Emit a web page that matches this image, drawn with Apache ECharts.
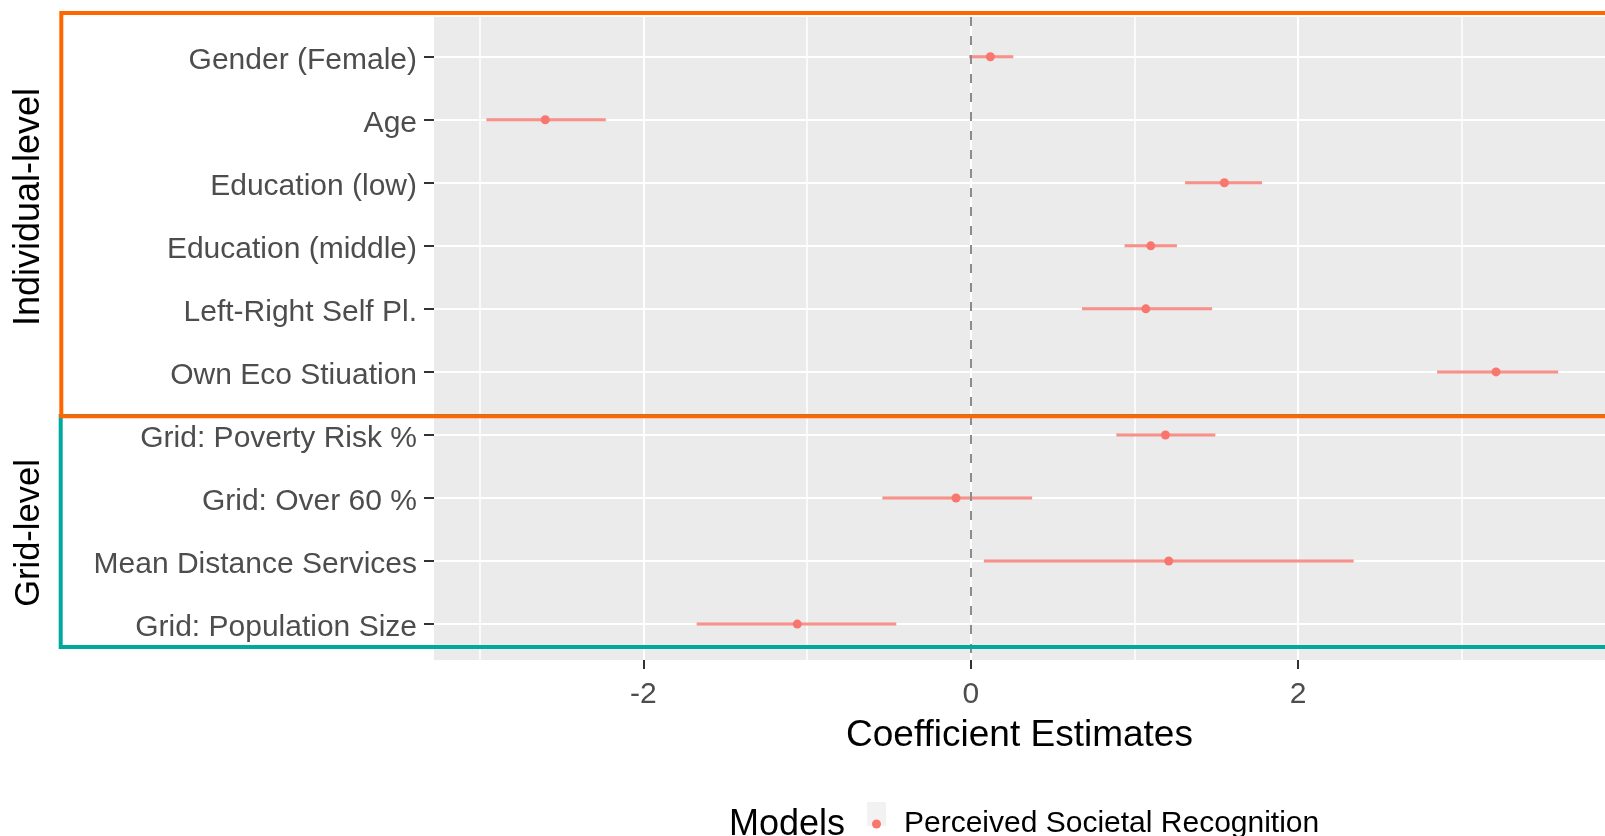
<!DOCTYPE html>
<html>
<head>
<meta charset="utf-8">
<script src="https://cdn.jsdelivr.net/npm/echarts@6/dist/echarts.min.js"></script>
<style>
  html, body { margin: 0; padding: 0; background: #fff; }
  #myChart { width: 1605px; height: 836px; }
</style>
</head>
<body>
<div id="myChart"></div>
<script>
// rows from top to bottom
const terms = [
  "Gender (Female)",
  "Age",
  "Education (low)",
  "Education (middle)",
  "Left-Right Self Pl.",
  "Own Eco Stiuation",
  "Grid: Poverty Risk %",
  "Grid: Over 60 %",
  "Mean Distance Services",
  "Grid: Population Size",
];
const estimate = [0.12, -2.6, 1.55, 1.10, 1.07, 3.21, 1.19, -0.09, 1.21, -1.06];
const ciLow = [-0.01, -2.96, 1.31, 0.94, 0.68, 2.85, 0.89, -0.54, 0.08, -1.675];
const ciHigh = [0.26, -2.23, 1.78, 1.26, 1.475, 3.59, 1.495, 0.375, 2.34, -0.455];
const majorTicks = [-2, 0, 2];
const minorTicks = [-3, -1, 1, 3];
const rowTicks = terms.map((t, i) => i);

const font = "'Liberation Sans', Arial, sans-serif";
const red = "#F8766D";
const seriesName = "Perceived Societal Recognition";

const chart = echarts.init(document.getElementById("myChart"));

chart.setOption({
  animation: false,
  textStyle: { fontFamily: font },
  grid: {
    left: 434,
    right: 0,
    top: 17,
    bottom: 176,
    show: true,
    backgroundColor: "#EBEBEB",
    borderWidth: 0,
  },
  title: {
    text: "Models",
    left: 729,
    top: 807,
    padding: 0,
    textStyle: { fontSize: 36, fontWeight: "normal", color: "#000", fontFamily: font },
  },
  legend: {
    left: 872,
    top: 809,
    padding: 0,
    itemWidth: 9,
    itemHeight: 9,
    data: [{ name: seriesName, icon: "circle", itemStyle: { color: red } }],
    textStyle: { fontSize: 30, color: "#000", padding: [0, 0, 0, 18], fontFamily: font },
  },
  xAxis: [
    {
      type: "value",
      min: -3.28,
      max: 3.876,
      name: "Coefficient Estimates",
      nameLocation: "middle",
      nameGap: 57,
      nameTextStyle: { fontSize: 37, color: "#000", fontFamily: font },
      axisLine: { show: false, onZero: false },
      axisTick: { show: true, length: 9, customValues: majorTicks, lineStyle: { color: "#333", width: 2 } },
      axisLabel: { customValues: majorTicks, fontSize: 30, color: "#4D4D4D", margin: 20, fontFamily: font },
      splitLine: { show: true, lineStyle: { color: "#fff", width: 2 } },
    },
    {
      type: "value",
      min: -3.28,
      max: 3.876,
      position: "bottom",
      axisLine: { show: false, onZero: false },
      axisTick: { show: false, customValues: minorTicks },
      axisLabel: { show: false },
      splitLine: { show: true, lineStyle: { color: "#fff", width: 1.5 } },
    },
  ],
  yAxis: {
    type: "value",
    inverse: true,
    min: -0.63,
    max: 9.57,
    axisLine: { show: false, onZero: false },
    axisTick: { show: true, length: 10, customValues: rowTicks, lineStyle: { color: "#333", width: 2 } },
    axisLabel: {
      customValues: rowTicks,
      margin: 17,
      formatter: (v) => "{l|" + (terms[Math.round(v)] || "") + "}",
      rich: {
        l: { fontSize: 30, color: "#4D4D4D", fontFamily: font, padding: [8, 0, 0, 0] },
      },
    },
    splitLine: { show: true, lineStyle: { color: "#fff", width: 2 } },
  },
  series: [
    {
      name: seriesName,
      type: "custom",
      z: 3,
      encode: { x: [0, 1], y: 2 },
      itemStyle: { color: red },
      data: terms.map((t, i) => [ciLow[i], ciHigh[i], i]),
      renderItem: (params, api) => {
        const a = api.coord([api.value(0), api.value(2)]);
        const b = api.coord([api.value(1), api.value(2)]);
        return {
          type: "line",
          shape: { x1: a[0], y1: a[1], x2: b[0], y2: b[1] },
          style: { stroke: "rgba(248,118,109,0.8)", lineWidth: 3 },
        };
      },
    },
    {
      name: seriesName,
      type: "scatter",
      z: 4,
      symbol: "circle",
      symbolSize: 9,
      itemStyle: { color: red, opacity: 1 },
      data: terms.map((t, i) => [estimate[i], i]),
      markLine: {
        silent: true,
        symbol: "none",
        label: { show: false },
        lineStyle: { color: "#8C8C8C", width: 2, type: [9, 10] },
        data: [{ xAxis: 0 }],
      },
    },
  ],
  graphic: [
    { type: "rect", z: 0, shape: { x: 867, y: 802, width: 19, height: 24 }, style: { fill: "#F2F2F2" } },
    { type: "rect", z: 10, shape: { x: 60.7, y: 416, width: 1600, height: 231 }, style: { fill: null, stroke: "#00A99D", lineWidth: 4 } },
    { type: "rect", z: 11, shape: { x: 61.3, y: 13, width: 1600, height: 403.3 }, style: { fill: null, stroke: "#FF6600", lineWidth: 4 } },
    {
      type: "text", z: 12, x: 29, y: 207, rotation: Math.PI / 2,
      style: { text: "Individual-level", fontSize: 36, fontFamily: font, fill: "#000", align: "center", verticalAlign: "middle" },
    },
    {
      type: "text", z: 12, x: 29, y: 533, rotation: Math.PI / 2,
      style: { text: "Grid-level", fontSize: 34.5, fontFamily: font, fill: "#000", align: "center", verticalAlign: "middle" },
    },
  ],
});
</script>
</body>
</html>
